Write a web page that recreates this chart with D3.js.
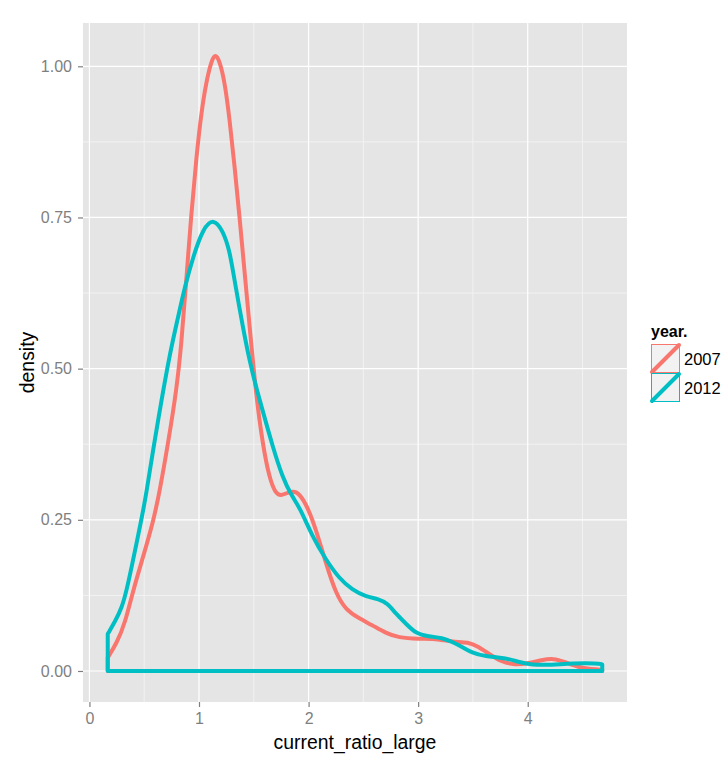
<!DOCTYPE html>
<html>
<head>
<meta charset="utf-8">
<script src="https://cdn.jsdelivr.net/npm/d3@7"></script>
<style>
  html, body { margin: 0; padding: 0; background: #ffffff; }
  svg { display: block; font-family: "Liberation Sans", Arial, sans-serif; }
</style>
</head>
<body>
<svg id="chart" width="726" height="767"></svg>
<script>
// ---- data ----
const years = ["2007", "2012"];
const colors = ["#F8766D", "#00BFC4"];

const x2007 = [0.167, 0.249, 0.325, 0.40, 0.49, 0.58, 0.643, 0.718, 0.795, 0.84, 0.879, 0.93, 0.976, 1.022, 1.067, 1.113, 1.149, 1.188, 1.234, 1.279, 1.325, 1.37, 1.42, 1.476, 1.52, 1.58, 1.643, 1.70, 1.75, 1.80, 1.885, 1.976, 2.067, 2.158, 2.249, 2.34, 2.46, 2.58, 2.70, 2.82, 3.006, 3.19, 3.31, 3.46, 3.55, 3.64, 3.76, 3.885, 4.006, 4.127, 4.234, 4.34, 4.46, 4.58, 4.68];
const d2007 = [0.022, 0.046, 0.079, 0.134, 0.189, 0.245, 0.299, 0.377, 0.465, 0.542, 0.635, 0.757, 0.85, 0.925, 0.975, 1.009, 1.021, 1.009, 0.975, 0.913, 0.834, 0.751, 0.652, 0.542, 0.459, 0.376, 0.318, 0.293, 0.290, 0.294, 0.300, 0.278, 0.235, 0.178, 0.128, 0.101, 0.087, 0.076, 0.063, 0.055, 0.053, 0.053, 0.048, 0.048, 0.040, 0.029, 0.015, 0.010, 0.013, 0.018, 0.021, 0.015, 0.006, 0.003, 0.002];

const x2012 = [0.167, 0.234, 0.295, 0.34, 0.385, 0.43, 0.476, 0.52, 0.58, 0.658, 0.734, 0.81, 0.87, 0.945, 1.036, 1.134, 1.218, 1.279, 1.325, 1.40, 1.46, 1.52, 1.597, 1.673, 1.76, 1.85, 1.915, 2.036, 2.158, 2.279, 2.40, 2.52, 2.643, 2.72, 2.795, 2.885, 2.976, 3.097, 3.22, 3.31, 3.40, 3.49, 3.61, 3.79, 3.915, 4.036, 4.22, 4.40, 4.64, 4.68];
const d2012 = [0.061, 0.082, 0.104, 0.134, 0.172, 0.211, 0.252, 0.294, 0.365, 0.448, 0.525, 0.586, 0.635, 0.684, 0.732, 0.749, 0.728, 0.696, 0.645, 0.569, 0.514, 0.47, 0.42, 0.371, 0.321, 0.288, 0.272, 0.222, 0.184, 0.153, 0.134, 0.123, 0.119, 0.112, 0.095, 0.079, 0.062, 0.057, 0.055, 0.048, 0.040, 0.030, 0.024, 0.022, 0.015, 0.010, 0.010, 0.0127, 0.0127, 0.011];

const xTicks = [0, 1, 2, 3, 4];
const xMinor = [0.5, 1.5, 2.5, 3.5, 4.5];
const yTicks = [0, 0.25, 0.5, 0.75, 1.0];
const yTickLabels = ["0.00", "0.25", "0.50", "0.75", "1.00"];
const yMinor = [0.125, 0.375, 0.625, 0.875];

const xTitle = "current_ratio_large";
const yTitle = "density";
const legendTitle = "year.";

// ---- layout ----
const panel = { left: 83, right: 627, top: 23, bottom: 702 };
const svg = d3.select("#chart");

const x = d3.scaleLinear().domain([-0.0587, 4.906]).range([panel.left, panel.right]);
const y = d3.scaleLinear().domain([-0.0513, 1.0716]).range([panel.bottom, panel.top]);

// panel background
svg.append("rect")
  .attr("x", panel.left).attr("y", panel.top)
  .attr("width", panel.right - panel.left).attr("height", panel.bottom - panel.top)
  .attr("fill", "#E5E5E5");

const grid = svg.append("g");
grid.selectAll("line.xminor").data(xMinor).enter().append("line")
  .attr("x1", d => x(d)).attr("x2", d => x(d))
  .attr("y1", panel.top).attr("y2", panel.bottom)
  .attr("stroke", "#F2F2F2").attr("stroke-width", 1);
grid.selectAll("line.yminor").data(yMinor).enter().append("line")
  .attr("y1", d => y(d)).attr("y2", d => y(d))
  .attr("x1", panel.left).attr("x2", panel.right)
  .attr("stroke", "#F2F2F2").attr("stroke-width", 1);
grid.selectAll("line.xmajor").data(xTicks).enter().append("line")
  .attr("x1", d => x(d)).attr("x2", d => x(d))
  .attr("y1", panel.top).attr("y2", panel.bottom)
  .attr("stroke", "#FFFFFF").attr("stroke-width", 1.2);
grid.selectAll("line.ymajor").data(yTicks).enter().append("line")
  .attr("y1", d => y(d)).attr("y2", d => y(d))
  .attr("x1", panel.left).attr("x2", panel.right)
  .attr("stroke", "#FFFFFF").attr("stroke-width", 1.2);

// density polygons
const series = [
  { name: years[0], xs: x2007, ds: d2007, color: colors[0] },
  { name: years[1], xs: x2012, ds: d2012, color: colors[1] }
];
const area = d3.area()
  .x(d => x(d[0]))
  .y0(() => y(0))
  .y1(d => y(d[1]))
  .curve(d3.curveBasis);

series.forEach(s => {
  const pts = s.xs.map((v, i) => [v, s.ds[i]]);
  svg.append("path")
    .attr("d", area(pts))
    .attr("fill", "none")
    .attr("stroke", s.color)
    .attr("stroke-width", 4)
    .attr("stroke-linejoin", "round");
});

// axes
const axisColor = "#7F7F7F";
const xAxis = d3.axisBottom(x).tickValues(xTicks).tickSize(5).tickPadding(6).tickFormat(d3.format("d"));
const gx = svg.append("g").attr("transform", `translate(0,${panel.bottom})`).call(xAxis);
const yAxis = d3.axisLeft(y).tickValues(yTicks).tickSize(5).tickPadding(6).tickFormat((d, i) => yTickLabels[i]);
const gy = svg.append("g").attr("transform", `translate(${panel.left},0)`).call(yAxis);
[gx, gy].forEach(g => {
  g.select(".domain").remove();
  g.selectAll(".tick line").attr("stroke", axisColor).attr("stroke-width", 1.2);
  g.selectAll(".tick text").attr("fill", axisColor)
    .style("font-size", "16px").style("font-family", "'Liberation Sans', Arial, sans-serif");
});

// axis titles
svg.append("text")
  .attr("x", (panel.left + panel.right) / 2).attr("y", 749)
  .attr("text-anchor", "middle")
  .style("font-size", "19.4px").attr("fill", "#000")
  .text(xTitle);
svg.append("text")
  .attr("transform", `translate(34,${(panel.top + panel.bottom) / 2}) rotate(-90)`)
  .attr("text-anchor", "middle")
  .style("font-size", "19.4px").attr("fill", "#000")
  .text(yTitle);

// legend
const legend = svg.append("g");
legend.append("text")
  .attr("x", 651).attr("y", 337)
  .style("font-size", "16px").style("font-weight", "bold")
  .text(legendTitle);
const keySize = 29;
series.forEach((s, i) => {
  const ky = 344 + i * keySize;
  const g = legend.append("g");
  g.append("rect")
    .attr("x", 651).attr("y", ky).attr("width", keySize).attr("height", keySize)
    .attr("fill", "#F2F2F2").attr("stroke", "none");
  g.append("rect")
    .attr("x", 651.5).attr("y", ky + 0.5).attr("width", keySize - 1).attr("height", keySize - 1)
    .attr("fill", "none").attr("stroke", s.color).attr("stroke-width", 1);
  g.append("line")
    .attr("x1", 652).attr("y1", ky + keySize - 1)
    .attr("x2", 651 + keySize - 1).attr("y2", ky + 1)
    .attr("stroke", s.color).attr("stroke-width", 4).attr("stroke-linecap", "round");
  g.append("text")
    .attr("x", 684).attr("y", ky + keySize / 2 + 6)
    .style("font-size", "16.5px")
    .text(s.name);
});
</script>
</body>
</html>
